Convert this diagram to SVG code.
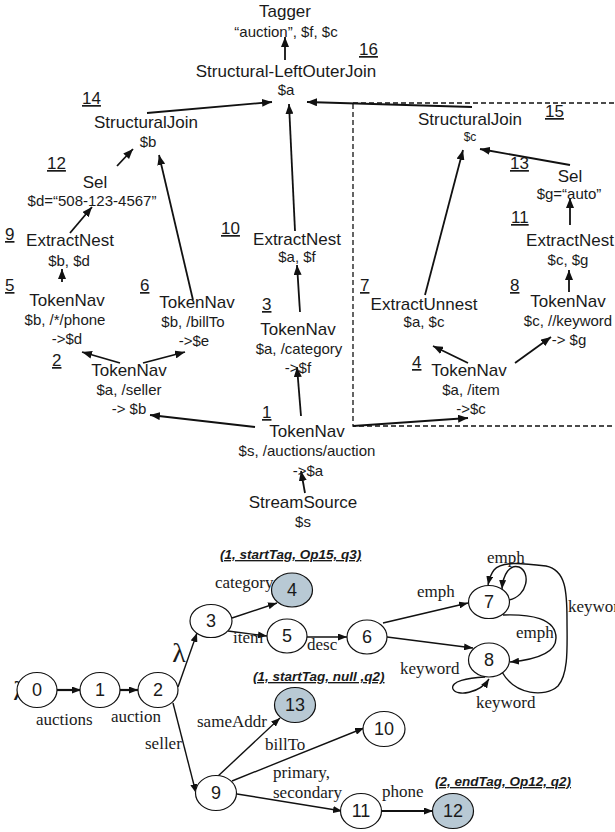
<svg xmlns="http://www.w3.org/2000/svg" width="615" height="832" viewBox="0 0 615 832">
<style>
.t{font-family:"Liberation Sans",Arial,sans-serif;font-size:17px;fill:#1a1a1a;text-anchor:middle}
.s{font-family:"Liberation Sans",Arial,sans-serif;font-size:15px;fill:#1a1a1a;text-anchor:middle}
.n{font-family:"Liberation Sans",Arial,sans-serif;font-size:17px;fill:#1a1a1a;text-decoration:underline}
.e{font-family:"Liberation Serif","Times New Roman",serif;font-size:17px;fill:#1a1a1a}
.q{font-family:"Liberation Sans",Arial,sans-serif;font-size:18px;fill:#1a1a1a;text-anchor:middle}
.b{font-family:"Liberation Sans",Arial,sans-serif;font-size:13.5px;font-weight:bold;font-style:italic;fill:#1a1a1a;text-decoration:underline}
.l{font-family:"Liberation Serif","Times New Roman",serif;font-size:28px;fill:#1a1a1a;text-anchor:middle}
.ar line,.ar path{stroke:#111;stroke-width:1.8;fill:none;marker-end:url(#ah)}
.ab line,.ab path{stroke:#111;stroke-width:1.4;fill:none;marker-end:url(#sh)}
.st{fill:#fff;stroke:#111;stroke-width:1.2}
.gr{fill:#b8c9d4;stroke:#111;stroke-width:1.2}
</style>
<defs>
<marker id="ah" markerUnits="userSpaceOnUse" markerWidth="10" markerHeight="8" refX="10" refY="4" orient="auto"><path d="M0,0 L10,4 L0,8 z" fill="#111"/></marker>
<marker id="sh" markerUnits="userSpaceOnUse" markerWidth="9" markerHeight="7" refX="9" refY="3.5" orient="auto"><path d="M0,0 L9,3.5 L0,7 z" fill="#111"/></marker>
</defs>

<!-- dashed box -->
<rect x="353" y="103" width="300" height="323" fill="none" stroke="#111" stroke-width="1.3" stroke-dasharray="5,3"/>

<g id="connectors-top" class="ar">
<line x1="285" y1="60" x2="285" y2="37"/>
<line x1="147" y1="113" x2="272" y2="102"/>
<line x1="295" y1="231" x2="289" y2="104"/>
<line x1="472" y1="107" x2="307" y2="102"/>
<line x1="117" y1="166" x2="133" y2="149"/>
<line x1="193" y1="300" x2="159" y2="155"/>
<line x1="70" y1="233" x2="92" y2="207"/>
<line x1="62" y1="282" x2="62" y2="269"/>
<line x1="120" y1="363" x2="82" y2="352"/>
<line x1="143" y1="363" x2="185" y2="352"/>
<line x1="300" y1="312" x2="297" y2="265"/>
<line x1="301" y1="416" x2="297" y2="367"/>
<line x1="255" y1="427" x2="150" y2="415"/>
<line x1="353" y1="426" x2="468" y2="418"/>
<line x1="305" y1="493" x2="301" y2="471"/>
<line x1="570" y1="165" x2="480" y2="149"/>
<line x1="570" y1="225" x2="570" y2="198"/>
<line x1="569" y1="292" x2="569" y2="270"/>
<line x1="425" y1="295" x2="463" y2="150"/>
<line x1="468" y1="363" x2="433" y2="346"/>
<line x1="515" y1="363" x2="551" y2="337"/>
</g>

<g id="op-tagger"><text class="t" x="285" y="17">Tagger</text><text class="s" x="286" y="37">“auction”, $f, $c</text></g>
<g id="op16"><text class="n" x="359" y="55">16</text><text class="t" x="286" y="77">Structural-LeftOuterJoin</text><text class="s" x="286" y="95">$a</text></g>
<g id="op14"><text class="n" x="82" y="104">14</text><text class="t" x="146" y="128">StructuralJoin</text><text class="s" x="148" y="147">$b</text></g>
<g id="op12"><text class="n" x="47" y="169">12</text><text class="t" x="95" y="188">Sel</text><text class="s" x="92" y="206">$d=“508-123-4567”</text></g>
<g id="op9"><text class="n" x="5" y="240">9</text><text class="t" x="70" y="246">ExtractNest</text><text class="s" x="69" y="266">$b, $d</text></g>
<g id="op5"><text class="n" x="5" y="291">5</text><text class="t" x="67" y="306">TokenNav</text><text class="s" x="65" y="325">$b,  /*/phone</text><text class="s" x="67" y="344">-&gt;$d</text></g>
<g id="op6"><text class="n" x="140" y="291">6</text><text class="t" x="197" y="308">TokenNav</text><text class="s" x="193" y="327">$b, /billTo</text><text class="s" x="194" y="346">-&gt;$e</text></g>
<g id="op2"><text class="n" x="52" y="366">2</text><text class="t" x="129" y="376">TokenNav</text><text class="s" x="129" y="395">$a, /seller</text><text class="s" x="129" y="414">-&gt; $b</text></g>
<g id="op10"><text class="n" x="221" y="234">10</text><text class="t" x="297" y="245">ExtractNest</text><text class="s" x="297" y="262">$a, $f</text></g>
<g id="op3"><text class="n" x="262" y="310">3</text><text class="t" x="298" y="335">TokenNav</text><text class="s" x="299" y="354">$a, /category</text><text class="s" x="298" y="373">-&gt;$f</text></g>
<g id="op1"><text class="n" x="262" y="418">1</text><text class="t" x="307" y="437">TokenNav</text><text class="s" x="307" y="456">$s, /auctions/auction</text><text class="s" x="308" y="476">-&gt;$a</text></g>
<g id="op-source"><text class="t" x="303" y="508">StreamSource</text><text class="s" x="303" y="527">$s</text></g>
<g id="op15"><text class="n" x="545" y="117">15</text><text class="t" x="470" y="125">StructuralJoin</text><text class="s" x="470" y="141" style="font-size:12px">$c</text></g>
<g id="op13"><text class="n" x="510" y="169">13</text><text class="t" x="570" y="182">Sel</text><text class="s" x="569" y="199">$g=“auto”</text></g>
<g id="op11"><text class="n" x="511" y="223">11</text><text class="t" x="570" y="246">ExtractNest</text><text class="s" x="568" y="265">$c,  $g</text></g>
<g id="op7"><text class="n" x="360" y="291">7</text><text class="t" x="424" y="310">ExtractUnnest</text><text class="s" x="424" y="327">$a, $c</text></g>
<g id="op8"><text class="n" x="510" y="291">8</text><text class="t" x="568" y="307">TokenNav</text><text class="s" x="568" y="326">$c, //keyword</text><text class="s" x="569" y="345">-&gt; $g</text></g>
<g id="op4"><text class="n" x="412" y="368">4</text><text class="t" x="469" y="376">TokenNav</text><text class="s" x="471" y="395">$a, /item</text><text class="s" x="471" y="414">-&gt;$c</text></g>

<!-- automaton -->
<text class="l" x="20" y="700">λ</text>
<g id="connectors-nfa" class="ab">
<line x1="57" y1="690" x2="81" y2="690" style="stroke-width:2.2"/>
<line x1="120" y1="690" x2="138" y2="690" style="stroke-width:2.2"/>
<line x1="178" y1="687" x2="197" y2="633"/>
<line x1="173" y1="703" x2="196" y2="793"/>
<line x1="232" y1="618" x2="277" y2="603"/>
<line x1="228" y1="631" x2="267" y2="636"/>
<line x1="307" y1="637" x2="347" y2="637"/>
<line x1="383" y1="623" x2="468" y2="603"/>
<line x1="387" y1="637" x2="473" y2="648"/>
<path d="M509,600 C528,596 531,572 519,567 C510,564 503,574 502,589"/>
<path d="M502,672 C515,695 545,698 558,686 C569,673 567,645 567,620 C567,592 566,570 546,566 C522,563 501,561 494,570 C490,575 489,580 488,585"/>
<path d="M503,615 C530,614 556,618 556,638 C556,655 532,660 510,662"/>
<path d="M485,677 C468,678 450,681 453,689 C457,697 480,693 489,679"/>
<line x1="217" y1="777" x2="280" y2="718"/>
<line x1="232" y1="781" x2="364" y2="728"/>
<line x1="237" y1="794" x2="342" y2="811"/>
<line x1="382" y1="811" x2="433" y2="811" style="stroke-width:2"/>
</g>

<g id="s0"><ellipse class="st" cx="37" cy="690" rx="20" ry="17.5"/><text class="q" x="37" y="696">0</text></g>
<g id="s1"><ellipse class="st" cx="100" cy="690" rx="20" ry="17.5"/><text class="q" x="100" y="696">1</text></g>
<g id="s2"><ellipse class="st" cx="158" cy="690" rx="20" ry="17.5"/><text class="q" x="158" y="696">2</text></g>
<g id="s3"><ellipse class="st" cx="211" cy="621" rx="21" ry="16.5"/><text class="q" x="211" y="627">3</text></g>
<g id="s4"><ellipse class="gr" cx="292" cy="590" rx="20.5" ry="17"/><text class="q" x="292" y="596">4</text></g>
<g id="s5"><ellipse class="st" cx="287" cy="636" rx="20" ry="17"/><text class="q" x="287" y="642">5</text></g>
<g id="s6"><ellipse class="st" cx="367" cy="637" rx="20" ry="17"/><text class="q" x="367" y="643">6</text></g>
<g id="s7"><ellipse class="st" cx="489" cy="602" rx="20.5" ry="16.5"/><text class="q" x="489" y="608">7</text></g>
<g id="s8"><ellipse class="st" cx="489" cy="660" rx="20.5" ry="17"/><text class="q" x="489" y="666">8</text></g>
<g id="s13"><ellipse class="gr" cx="295" cy="705" rx="20.5" ry="17.5"/><text class="q" x="295" y="711">13</text></g>
<g id="s10"><ellipse class="st" cx="384" cy="729" rx="21" ry="17.5"/><text class="q" x="384" y="735">10</text></g>
<g id="s9"><ellipse class="st" cx="216" cy="793" rx="20.5" ry="17.5"/><text class="q" x="216" y="799">9</text></g>
<g id="s11"><ellipse class="st" cx="361" cy="811" rx="20.5" ry="17.5"/><text class="q" x="361" y="817">11</text></g>
<g id="s12"><ellipse class="gr" cx="453" cy="811" rx="20.5" ry="17.5"/><text class="q" x="453" y="817">12</text></g>

<g id="nfa-labels">
<text class="l" x="179" y="662">λ</text>
<text class="e" x="36" y="725">auctions</text>
<text class="e" x="111" y="722">auction</text>
<text class="e" x="145" y="749">seller</text>
<text class="e" x="215" y="588">category</text>
<text class="e" x="233" y="643">item</text>
<text class="e" x="307" y="650">desc</text>
<text class="e" x="417" y="597">emph</text>
<text class="e" x="487" y="563">emph</text>
<text class="e" x="568" y="612">keyword</text>
<text class="e" x="516" y="638">emph</text>
<text class="e" x="400" y="674">keyword</text>
<text class="e" x="476" y="708">keyword</text>
<text class="e" x="197" y="727">sameAddr</text>
<text class="e" x="265" y="750">billTo</text>
<text class="e" x="273" y="778">primary,</text>
<text class="e" x="273" y="798">secondary</text>
<text class="e" x="382" y="797">phone</text>
<text class="b" x="220" y="559">(1, startTag, Op15, q3)</text>
<text class="b" x="253" y="681">(1, startTag, null ,q2)</text>
<text class="b" x="435" y="786">(2, endTag, Op12, q2)</text>
</g>
</svg>
